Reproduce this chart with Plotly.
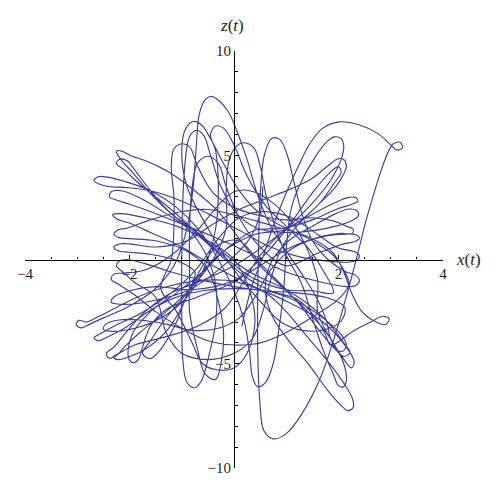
import plotly.graph_objects as go

# Trajectory (x(t), z(t))
x_t = [
    0.15, 0.35, 0.55, 0.75, 0.95, 1.2, 1.45, 1.7, 2.02, 2.4,
    2.75, 3.0, 3.12, 3.22, 3.18, 3.05, 2.95, 2.82, 2.67, 2.52,
    2.37, 2.18, 1.95, 1.65, 1.3, 1.0, 0.75, 0.57, 0.5, 0.46,
    0.45, 0.47, 0.5, 0.58, 0.72, 0.88, 1.02, 1.15, 1.3, 1.5,
    1.8, 2.15, 2.32, 2.4, 2.33, 2.15, 1.7, 1.0, 0.3, -0.4,
    -1.0, -1.6, -2.0, -2.25, -2.38, -2.35, -2.15, -1.8, -1.3, -0.85,
    -0.55, -0.35, -0.35, -0.5, -0.62, -0.75, -0.9, -0.98, -1.0, -1.0,
    -0.98, -0.93, -0.85, -0.72, -0.58, -0.45, -0.25, 0.05, 0.45, 0.95,
    1.55, 1.95, 2.28, 2.38, 2.35, 2.2, 1.95, 1.5, 1.05, 0.7,
    0.6, 0.75, 1.05, 1.45, 1.8, 2.05, 2.18, 2.28, 2.27, 2.12,
    1.8, 1.4, 1.0, 0.6, 0.0, -0.6, -1.2, -1.8, -2.25, -2.6,
    -2.82, -2.97, -3.02, -2.92, -2.76, -2.5, -2.05, -1.55, -1.15, -0.9,
    -0.78, -0.72, -0.67, -0.57, -0.44, -0.28, -0.1, 0.05, 0.25, 0.45,
    0.7, 1.0, 1.3, 1.55, 1.75, 1.85, 1.95, 2.08, 2.15, 2.05,
    1.7, 1.2, 0.6, 0.0, -0.6, -1.2, -1.7, -2.1, -2.45, -2.6,
    -2.68, -2.55, -2.3, -1.8, -1.2, -0.7, -0.3, 0.1, 0.6, 1.1,
    1.6, 2.0, 2.3, 2.4, 2.36, 2.22, 1.9, 1.3, 0.7, 0.1,
    -0.5, -1.1, -1.6, -2.05, -2.4, -2.58, -2.68, -2.6, -2.42, -2.1,
    -1.6, -1.1, -0.7, -0.3, 0.0, 0.2, 0.3, 0.35, 0.45, 0.6,
    0.75, 0.85, 0.95, 1.0, 1.1, 1.3, 1.55, 1.78, 1.92, 2.05,
    2.1, 2.05, 1.85, 1.5, 1.1, 0.6, 0.0, -0.6, -1.2, -1.7,
    -2.0, -2.3, -2.44, -2.4, -2.25, -2.1, -1.8, -1.3, -0.85, -0.4,
    -0.15, -0.15, -0.1, 0.05, 0.2, 0.38, 0.5, 0.62, 0.8, 1.0,
    1.3, 1.5, 1.7, 1.9, 2.0, 2.1, 2.15, 2.1, 1.85, 1.45,
    1.0, 0.5, 0.1, -0.3, -0.75, -1.25, -1.7, -1.95, -2.15, -2.25,
    -2.22, -2.1, -1.95, -1.65, -1.25, -0.8, -0.3, 0.2, 0.7, 1.2,
    1.5, 1.75, 1.85, 2.3, 2.65, 2.85, 2.97, 2.9, 2.72, 2.45,
    2.25, 2.1, 1.9, 1.5, 0.9, 0.2, -0.5, -1.0, -1.6, -2.05,
    -2.22, -2.3, -2.2, -2.0, -1.5, -0.9, -0.5, -0.3, -0.2, -0.25,
    -0.35, -0.55, -0.7, -0.85, -0.85, -0.85, -0.8, -0.7, -0.5, -0.3,
    -0.15, 0.1, 0.5, 1.0, 1.6, 2.1, 2.3, 2.4, 2.32, 2.15,
    1.7, 1.1, 0.5, -0.1, -0.7, -1.3, -1.6, -1.75, -1.82, -1.93,
    -2.02, -1.95, -1.6, -1.1, -0.6, -0.1, 0.4, 0.95, 1.5, 1.95,
    2.25, 2.37, 2.33, 2.18, 1.95, 1.45, 0.95, 0.5, 0.15, -0.2,
    -0.7, -1.3, -1.9, -2.2, -2.32, -2.22, -2.05, -1.7, -1.25, -0.85,
    -0.75, -1.1, -1.6, -2.0, -2.22, -2.3, -2.2, -2.0, -1.5, -0.9,
    -0.4, 0.1, 0.6, 1.1, 1.5, 1.8, 1.98, 2.1, 2.15, 2.1,
    1.95, 1.6, 1.2, 0.9, 0.7, 0.55, 0.35, 0.0, -0.5, -1.0,
    -1.3, -1.5, -1.9, -2.15, -2.25, -2.2, -2.05, -1.7, -1.2, -0.6,
    0.0, 0.6, 1.2, 1.8, 2.12, 2.05, 1.75, 1.3, 0.9, 0.5,
    0.0, -0.5, -0.9, -1.0, -0.92, -0.78, -0.62, -0.45, -0.2, 0.1,
    0.5, 1.0, 1.5, 1.9, 2.1, 2.2, 2.0, 1.6, 1.0, 0.5,
    0.0, -0.5, -1.0, -1.5, -1.9, -2.2, -2.35, -2.3, -2.1, -1.7,
    -1.2, -0.7, -0.3, 0.0, 0.3, 0.7, 1.1, 1.4, 1.6, 1.6,
    1.8, 2.05, 2.25, 2.3, 2.15, 1.7, 1.0, 0.3, -0.4, -1.0,
    -1.6, -2.0, -2.25, -2.32, -2.15, -1.7, -1.1, -0.5, 0.0, 0.3,
    0.4, 0.25, 0.0, -0.3, -0.6, -0.8, -1.1, -1.4, -1.2, -1.15,
    -1.15, -1.2, -1.15, -1.0, -0.85, -0.7, -0.4, 0.0, 0.5, 1.0,
    1.5, 1.9, 2.15, 2.28, 2.26, 2.05, 1.6, 1.1, 0.7, 0.4,
    0.1, -0.3, -0.8, -1.3, -1.8, -2.2, -2.45, -2.5, -2.3, -1.9,
    -1.4, -0.9, -0.55, -0.35, -0.3, -0.35, -0.45, -0.35, -0.2, 0.0,
    0.25, 0.6, 1.0, 1.4, 1.7, 1.9,
    1.5, 1.0, 0.3, -0.4, -0.8, -1.3, -1.8, -2.1, -2.25, -2.2,
    -2.05, -1.9, -1.6, -1.2, -0.8, -0.3, 0.3, 1.0, 1.5, 1.9,
    2.1, 2.22, 2.1, 1.9, 1.6, 1.3, 1.0, 0.5, 0.1, -0.3, -0.6,
    -0.85, -1.3, -1.6, -1.75, -1.6, -1.4, -1.1, -0.85, -0.3, 0.4,
    1.0, 1.6, 1.9, 2.05, 2.0, 1.85, 1.5, 1.0, 0.5, 0.0,
    -0.8, -1.5, -2.0, -2.3, -2.35, -2.15, -1.6, -0.85, -0.3, 0.3,
    0.5, 0.55,
]
z_t = [
    -3.2, -1.2, 0.1, 1.6, 2.9, 4.3, 5.55, 6.3, 6.6, 6.45,
    6.05, 5.5, 5.25, 5.35, 5.62, 5.55, 5.15, 4.3, 3.1, 1.8,
    0.3, -1.5, -3.5, -5.7, -7.4, -8.35, -8.6, -8.2, -7.0, -5.0,
    -2.5, 0.5, 3.0, 5.0, 5.8, 5.75, 5.0, 3.7, 2.2, 0.9,
    0.0, -0.6, -0.75, -1.0, -1.25, -1.3, -1.1, -0.6, 0.3, 1.1,
    1.7, 2.3, 2.65, 2.85, 3.0, 3.25, 3.3, 2.95, 2.2, 1.4,
    0.3, -1.2, -3.0, -4.8, -5.8, -6.15, -5.9, -4.8, -2.8, 0.0,
    2.8, 4.8, 5.9, 6.2, 5.95, 5.0, 3.5, 2.2, 1.5, 1.3,
    1.4, 1.6, 1.9, 2.1, 2.35, 2.42, 2.2, 1.6, 0.9, -0.2,
    -1.6, -2.8, -3.9, -5.1, -6.3, -7.0, -7.25, -7.1, -6.7, -6.0,
    -4.9, -3.7, -2.5, -1.6, -1.05, -1.0, -1.25, -1.75, -2.3, -2.75,
    -3.0, -2.92, -3.12, -3.28, -3.1, -2.8, -2.3, -1.5, -0.3, 1.5,
    3.5, 5.5, 6.9, 7.6, 7.82, 7.6, 7.05, 6.2, 4.8, 3.1,
    1.6, 0.4, -0.7, -1.7, -2.8, -3.8, -4.3, -4.4, -4.1, -3.6,
    -2.8, -2.0, -1.5, -1.4, -1.5, -1.9, -2.6, -3.3, -3.75, -3.9,
    -3.75, -3.55, -3.2, -2.6, -1.6, -0.4, 1.0, 2.0, 2.3, 2.0,
    1.2, 0.55, 0.38, 0.2, -0.02, -0.12, -0.1, 0.1, 0.6, 1.4,
    2.2, 2.9, 3.3, 3.45, 3.5, 3.62, 3.78, 3.97, 3.95, 3.75,
    3.3, 2.5, 1.5, 0.0, -1.5, -3.0, -4.5, -5.6, -6.1, -5.9,
    -5.0, -3.5, -1.5, 0.5, 2.5, 3.8, 4.9, 5.65, 5.88, 5.8,
    5.45, 4.8, 3.8, 2.7, 1.7, 0.7, -0.3, -1.0, -1.6, -2.5,
    -3.3, -4.2, -4.5, -4.72, -4.6, -4.2, -3.5, -2.5, -1.45, 0.0,
    1.5, 3.2, 4.7, 5.45, 5.6, 5.35, 4.5, 3.0, 1.5, 0.2,
    -1.2, -2.8, -4.3, -5.5, -6.05, -6.1, -5.8, -5.0, -3.8, -2.6,
    -1.5, -0.3, 1.0, 2.3, 3.3, 4.2, 4.75, 4.95, 5.2, 5.2,
    5.0, 4.6, 4.2, 3.3, 2.3, 1.4, 0.3, -0.8, -1.5, -1.9,
    -2.6, -3.6, -4.1, -3.4, -2.95, -2.72, -2.85, -3.12, -3.0, -2.5,
    -1.6, -0.6, 0.3, 1.0, 1.5, 2.0, 2.4, 2.3, 1.9, 1.5,
    1.42, 1.22, 1.05, 1.0, 0.9, 0.4, -0.5, -2.0, -3.5, -5.0,
    -5.75, -5.5, -4.3, -2.5, -1.0, 1.5, 3.5, 4.6, 4.95, 4.6,
    3.5, 2.0, 0.6, -0.3, 0.3, 0.75, 0.85, 1.02, 1.2, 1.22,
    1.1, 0.6, -0.3, -1.2, -1.8, -2.4, -3.2, -4.2, -4.75, -4.95,
    -4.7, -3.6, -2.5, -1.6, -0.6, 0.6, 1.4, 1.5, 1.9, 2.4,
    2.65, 2.8, 2.97, 2.97, 2.75, 2.1, 1.35, 0.2, -1.2, -2.4,
    -3.2, -3.7, -4.1, -4.5, -4.68, -4.8, -4.7, -4.3, -3.3, -1.45,
    -0.6, -0.05, 0.25, 0.35, 0.42, 0.58, 0.74, 0.75, 0.6, 0.9,
    1.7, 2.4, 2.9, 3.4, 3.9, 4.5, 4.82, 4.8, 4.5, 4.1,
    3.5, 2.6, 1.6, 0.5, -1.0, -2.5, -3.8, -4.5, -4.8, -4.5,
    -3.5, -1.8, -1.1, -0.55, -0.32, -0.08, 0.0, -0.2, -0.6, -1.0,
    -1.3, -1.5, -1.6, -1.85, -2.3, -2.95, -3.35, -3.4, -3.0, -2.0,
    -0.5, 1.5, 3.5, 5.2, 6.3, 6.62, 6.45, 5.8, 4.6, 3.3,
    2.2, 1.5, 0.9, 0.2, -0.5, -1.2, -1.9, -2.6, -3.5, -4.0,
    -4.1, -3.9, -3.3, -2.5, -1.7, -1.2, -0.95, -0.7, -0.65, -0.5,
    0.2, 1.4, 2.6, 3.25, 3.3, 2.8, 1.8, 0.5, -1.0, -2.5,
    -3.6, -4.6, -5.2, -4.9, -4.2, -3.0, -2.0, -1.2, -0.3, 0.6,
    1.3, 1.75, 1.95, 2.15, 2.2, 2.0, 1.6, 0.9, 0.0, -1.5,
    -3.0, -4.5, -5.2, -5.3, -5.0, -4.0, -2.5, -1.4, 0.0, 1.5,
    3.0, 4.5, 5.3, 5.55, 5.4, 4.5, 3.2, 2.5, 2.1, 1.9,
    2.0, 1.85, 1.6, 1.45, 1.25, 1.25, 1.05, 0.5, -0.5, -1.8,
    -2.8, -3.3, -3.4, -3.1, -2.9, -2.9, -3.1, -3.35, -3.45, -3.3,
    -2.8, -1.8, -0.3, 1.5, 3.5, 5.2, 6.0, 6.4, 6.3, 5.5,
    4.0, 2.6, 1.6, 0.6, -0.5, -1.6,
    -1.5, -1.45, -0.8, 0.6, 1.5, 2.6, 3.6, 4.3, 4.6, 4.8,
    4.75, 4.3, 3.3, 2.2, 1.5, 0.5, -0.6, -1.45, -2.3, -3.3,
    -4.0, -4.45, -4.65, -4.2, -3.3, -2.3, -1.45, -0.2, 0.9, 0.7, -0.3,
    -1.45, -2.8, -3.9, -4.5, -4.75, -4.3, -3.0, -1.45, 0.2, 1.2,
    1.45, 2.6, 3.6, 4.2, 4.45, 4.2, 3.2, 1.45, 0.0, -1.0,
    -1.45, -1.3, -1.5, -1.8, -2.05, -2.15, -2.0, -1.45, -0.5, 1.0,
    2.2, 3.5,
]

x_tick_vals = [-4, -2, 2, 4]
x_tick_text = ["\u22124", "\u22122", "2", "4"]
z_tick_vals = [-10, -5, 5, 10]
z_tick_text = ["\u221210", "\u22125", "5", "10"]

serif = "Liberation Serif"

fig = go.Figure()
fig.add_trace(go.Scatter(
    x=x_t, y=z_t, mode="lines",
    line=dict(color="#3c3f99", width=1.15, shape="spline", smoothing=1.0),
    hoverinfo="skip", showlegend=False,
))

axis_common = dict(
    showgrid=False, zeroline=False, showline=True, automargin=False,
    linecolor="black", linewidth=1.1,
    ticks="inside", ticklen=4, tickwidth=1, tickcolor="black",
    tickfont=dict(family=serif, size=15, color="#222"),
    anchor="free", position=0.5,
)

fig.update_layout(
    width=500, height=496,
    margin=dict(l=17, r=65, t=43, b=36),
    paper_bgcolor="white", plot_bgcolor="white",
    xaxis=dict(range=[-4, 4], tickmode="array", tickvals=x_tick_vals,
               ticktext=x_tick_text,
               minor=dict(dtick=0.5, tick0=0, ticks="inside", ticklen=2.5,
                          tickcolor="black"),
               **axis_common),
    yaxis=dict(range=[-10, 10], tickmode="array", tickvals=z_tick_vals,
               ticktext=z_tick_text,
               minor=dict(dtick=1, tick0=0, ticks="inside", ticklen=2.5,
                          tickcolor="black"),
               **axis_common),
    annotations=[
        dict(text="<i>x</i>(<i>t</i>)", x=1.026, y=0.5, xref="paper", yref="paper",
             xanchor="left", yanchor="middle", showarrow=False,
             font=dict(family=serif, size=17, color="#222")),
        dict(text="<i>z</i>(<i>t</i>)", x=0.495, y=1.06, xref="paper", yref="paper",
             xanchor="center", yanchor="middle", showarrow=False,
             font=dict(family=serif, size=17, color="#222")),
    ],
)

fig.write_html("out.html")
